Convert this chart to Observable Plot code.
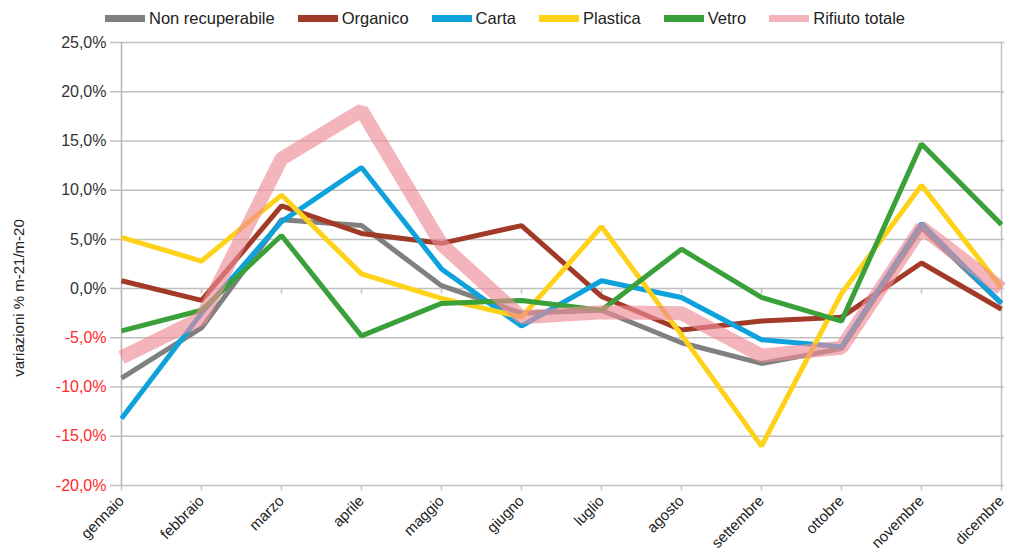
<!DOCTYPE html>
<html>
<head>
<meta charset="utf-8">
<script src="https://cdn.jsdelivr.net/npm/d3@7"></script>
<script src="https://cdn.jsdelivr.net/npm/@observablehq/plot@0.6"></script>
<style>
  body { margin: 0; background: #fff; font-family: "Liberation Sans", Arial, sans-serif; }
  #wrap { position: relative; width: 1010px; height: 558px; }
  #legend { position: absolute; left: 0; top: 0; width: 1010px; height: 36px; display: flex; justify-content: center; align-items: center; font-size: 16.5px; color: #222; z-index: 2; }
  .item { display: flex; align-items: center; margin: 0 11.5px; }
  .sw { width: 40px; height: 7px; margin-right: 4px; }
  #ylabel { position: absolute; left: 18px; top: 298px; transform: translate(-50%, -50%) rotate(-90deg); font-size: 15px; color: #222; white-space: nowrap; z-index: 2; }
  #chart { position: absolute; left: 0; top: 30px; z-index: 1; }
</style>
</head>
<body>
<div id="wrap">
  <div id="chart"></div>
  <div id="legend"></div>
  <div id="ylabel">variazioni % m-21/m-20</div>
</div>
<script>
const months = ["gennaio","febbraio","marzo","aprile","maggio","giugno","luglio","agosto","settembre","ottobre","novembre","dicembre"];
const seriesNames = ["Non recuperabile","Organico","Carta","Plastica","Vetro","Rifiuto totale"];
const seriesColors = ["#808080","#a23a28","#0ea2dd","#ffd21a","#3aa03a","#ee8c96"];
const nonRecuperabile = [-9.1, -4.0, 7.0, 6.4, 0.3, -2.5, -2.2, -5.5, -7.6, -6.1, 6.2, -1.5];
const organico        = [0.8, -1.2, 8.4, 5.6, 4.6, 6.4, -0.8, -4.2, -3.3, -2.9, 2.6, -2.1];
const carta           = [-13.2, -2.5, 6.8, 12.3, 2.0, -3.8, 0.8, -0.9, -5.2, -5.9, 6.6, -1.5];
const plastica        = [5.2, 2.8, 9.5, 1.5, -1.0, -2.9, 6.3, -4.7, -16.0, -0.5, 10.5, 0.1];
const vetro           = [-4.3, -2.2, 5.4, -4.8, -1.5, -1.2, -2.2, 4.0, -0.9, -3.3, 14.7, 6.5];
const rifiutoTotale   = [-7.0, -3.0, 13.2, 18.1, 4.5, -2.9, -2.4, -2.5, -6.8, -6.0, 6.2, 0.0];
const yTicks = [25, 20, 15, 10, 5, 0, -5, -10, -15, -20];

const allSeries = [nonRecuperabile, organico, carta, plastica, vetro, rifiutoTotale];
const fmt = d => d.toFixed(1).replace(".", ",") + "%";

// legend
const leg = document.getElementById("legend");
seriesNames.forEach((n, i) => {
  const it = document.createElement("div"); it.className = "item";
  const sw = document.createElement("div"); sw.className = "sw";
  sw.style.background = seriesColors[i];
  if (i === 5) sw.style.opacity = 0.65;
  const t = document.createElement("span"); t.textContent = n;
  it.appendChild(sw); it.appendChild(t); leg.appendChild(it);
});

const lineMarks = allSeries.map((vals, i) => {
  const data = months.map((m, j) => ({m, v: vals[j]}));
  return Plot.line(data, {
    x: "m", y: "v",
    stroke: seriesColors[i],
    strokeWidth: i === 5 ? 14 : 5,
    strokeOpacity: i === 5 ? 0.65 : 1,
    strokeLinejoin: "miter",
    strokeLinecap: "butt"
  });
});

const chart = Plot.plot({
  width: 1010,
  height: 528,
  marginLeft: 118,
  marginRight: 6,
  marginTop: 12,
  marginBottom: 73,
  x: {type: "point", domain: months, padding: 0},
  y: {domain: [-20, 25], axis: null},
  style: {fontFamily: "Liberation Sans, Arial, sans-serif", background: "#fff"},
  marks: [
    Plot.ruleY(yTicks, {y: d => d, stroke: "#c0c0c0", strokeWidth: 1.5, insetLeft: -8}),
    Plot.ruleX([months[months.length - 1]], {x: d => d, stroke: "#c0c0c0", strokeWidth: 1.5}),
    Plot.ruleX([months[0]], {x: d => d, stroke: "#b3b3b3", strokeWidth: 1.5}),
    Plot.ruleX(months, {x: d => d, y1: 0, y2: -0.55, stroke: "#c0c0c0", strokeWidth: 1.5}),
    Plot.ruleX(months, {x: d => d, y1: -20, y2: -20.55, stroke: "#c0c0c0", strokeWidth: 1.5}),
    Plot.text(yTicks, {y: d => d, frameAnchor: "left", dx: -12, textAnchor: "end", text: fmt, fontSize: 16, fill: d => d < 0 ? "#ff2a2a" : "#333"}),
    Plot.axisX({tickSize: 0, tickRotate: -45, fontSize: 15, tickPadding: 13, label: null, color: "#222"}),
    ...lineMarks
  ]
});
document.getElementById("chart").appendChild(chart);
</script>
</body>
</html>
